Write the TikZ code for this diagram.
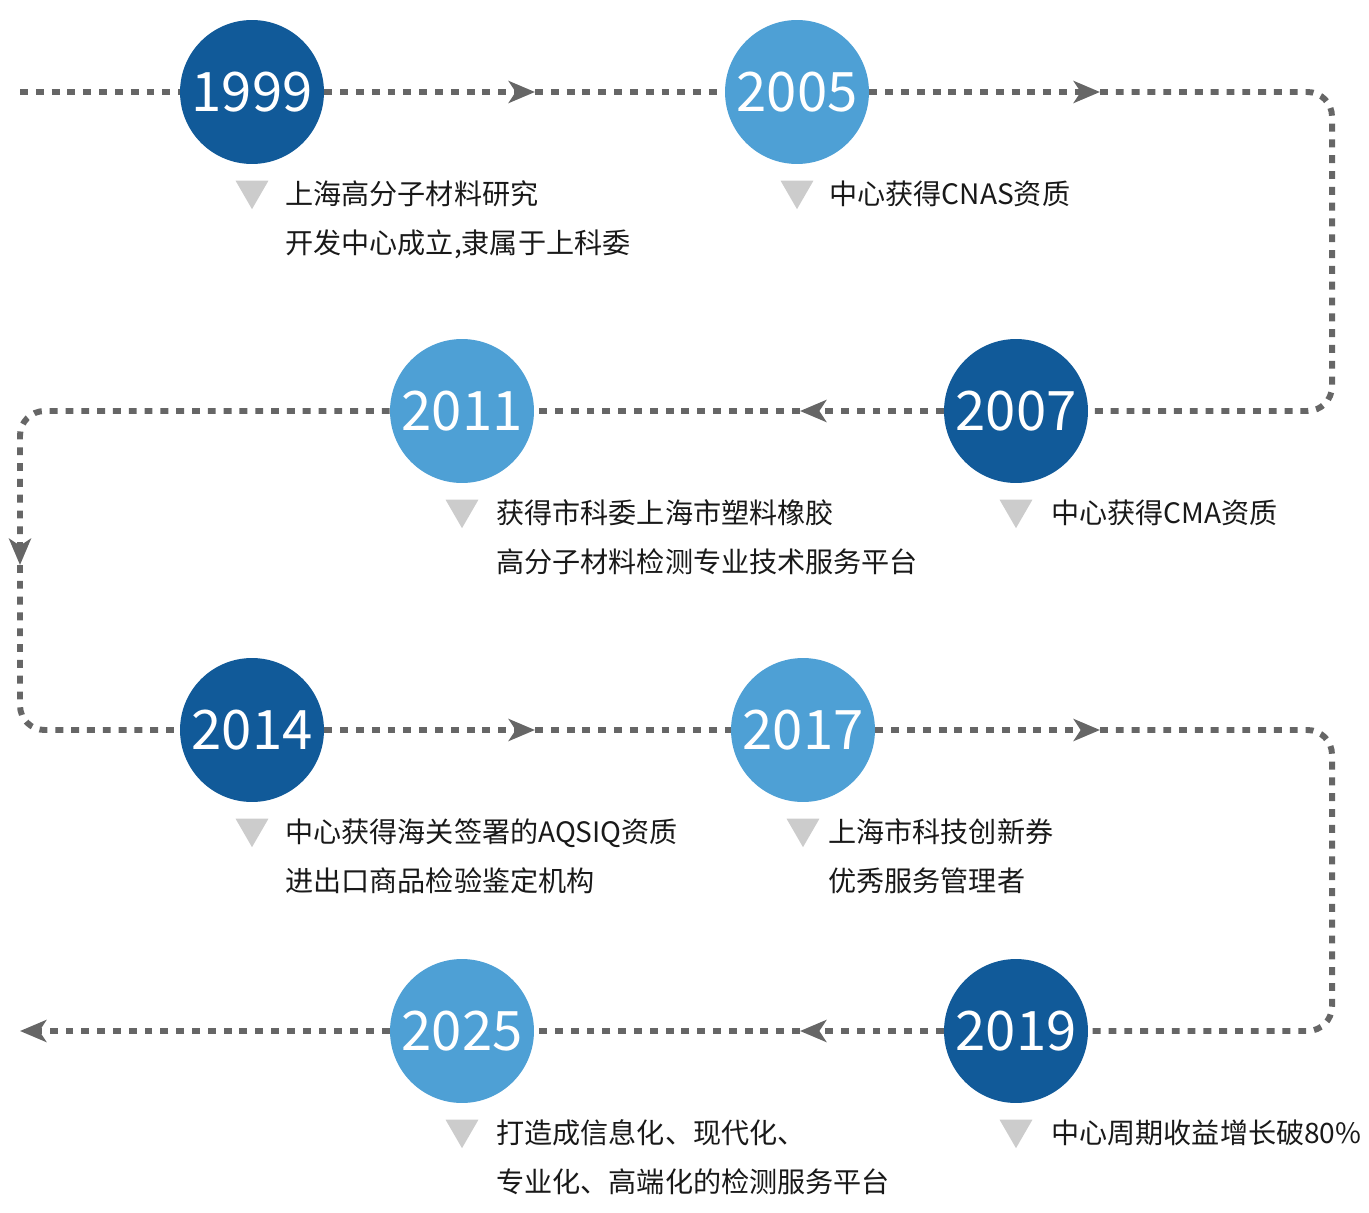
\documentclass[tikz,border=0pt]{standalone}
\usepackage{fontspec}
\setmainfont{Noto Sans CJK SC}
\usepackage{tikz}
\usetikzlibrary{arrows.meta, positioning, shapes.geometric}

\definecolor{bleuf}{RGB}{17,90,153}
\definecolor{bleuc}{RGB}{78,160,213}
\definecolor{gristrait}{RGB}{102,102,102}
\definecolor{gristri}{RGB}{204,204,204}

\begin{document}
\begin{tikzpicture}[
    x=0.02cm, y=-0.02cm,
    every node/.style={font=\fontsize{16pt}{28pt}\selectfont, text=black!90},
    dark/.style={circle, fill=bleuf, minimum size=2.88cm, inner sep=0pt, text=white, font=\fontsize{31pt}{31pt}\selectfont},
    light/.style={dark, fill=bleuc},
    tri/.style={regular polygon, regular polygon sides=3, shape border rotate=180, fill=gristri, minimum size=0.76cm, inner sep=0pt},
    desc/.style={align=left, inner sep=0pt, anchor=north west},
    dline/.style={draw=gristrait, line width=3.4pt, dash pattern=on 4.5pt off 4.5pt},
    arrow/.style={-{Stealth[length=15pt, width=12.5pt, inset=4pt]}}
]
\useasboundingbox (0,0) rectangle (1369,1213);

% Les années
\node[dark]  (y1999) at (252,92)   {1999};
\node[light] (y2005) at (797,92)   {2005};
\node[dark]  (y2007) at (1016,411) {2007};
\node[light] (y2011) at (462,411)  {2011};
\node[dark]  (y2014) at (252,730)  {2014};
\node[light] (y2017) at (803,730)  {2017};
\node[dark]  (y2019) at (1016,1031) {2019};
\node[light] (y2025) at (462,1031) {2025};

% Triangles et textes
\foreach \y in {1999,2005,2007,2011,2014,2017,2019,2025}
  \node[tri, below=0.32cm of y\y] (t\y) {};

\node[right=0.66cm of t1999.north, desc] (d1999) {上海高分子材料研究\\开发中心成立,隶属于上科委};
\node[right=0.64cm of t2005.north, desc] (d2005) {中心获得CNAS资质};
\node[right=0.70cm of t2007.north, desc] (d2007) {中心获得CMA资质};
\node[right=0.68cm of t2011.north, desc] (d2011) {获得市科委上海市塑料橡胶\\高分子材料检测专业技术服务平台};
\node[right=0.66cm of t2014.north, desc] (d2014) {中心获得海关签署的AQSIQ资质\\进出口商品检验鉴定机构};
\node[right=0.50cm of t2017.north, desc] (d2017) {上海市科技创新券\\优秀服务管理者};
\node[right=0.70cm of t2019.north, desc] (d2019) {中心周期收益增长破80\%};
\node[right=0.68cm of t2025.north, desc] (d2025) {打造成信息化、现代化、\\专业化、高端化的检测服务平台};

% Points du trajet
\coordinate (s0) at (20,92);
\coordinate (m1) at (535,92);
\coordinate (m2) at (1100,92);
\coordinate (r1) at (1332,411);
\coordinate (m3) at (800,411);
\coordinate (m4) at (20,565);
\coordinate (m5) at (535,730);
\coordinate (m6) at (1100,730);
\coordinate (r2) at (1332,1031);
\coordinate (m7) at (800,1031);
\coordinate (e0) at (20,1031);

% Trajet pointillé
\draw[dline] (s0) -- (y1999);
\draw[dline, arrow] (y1999) -- (m1);
\draw[dline] (m1) -- (y2005);
\draw[dline, arrow] (y2005) -- (m2);
\draw[dline, rounded corners=14pt] (m2) -| (r1) -- (y2007);
\draw[dline, arrow] (y2007) -- (m3);
\draw[dline] (m3) -- (y2011);
\draw[dline, arrow, rounded corners=14pt] (y2011) -| (m4);
\draw[dline, rounded corners=14pt] (m4) |- (y2014);
\draw[dline, arrow] (y2014) -- (m5);
\draw[dline] (m5) -- (y2017);
\draw[dline, arrow] (y2017) -- (m6);
\draw[dline, rounded corners=14pt] (m6) -| (r2) -- (y2019);
\draw[dline, arrow] (y2019) -- (m7);
\draw[dline] (m7) -- (y2025);
\draw[dline, arrow] (y2025) -- (e0);

\end{tikzpicture}
\end{document}
